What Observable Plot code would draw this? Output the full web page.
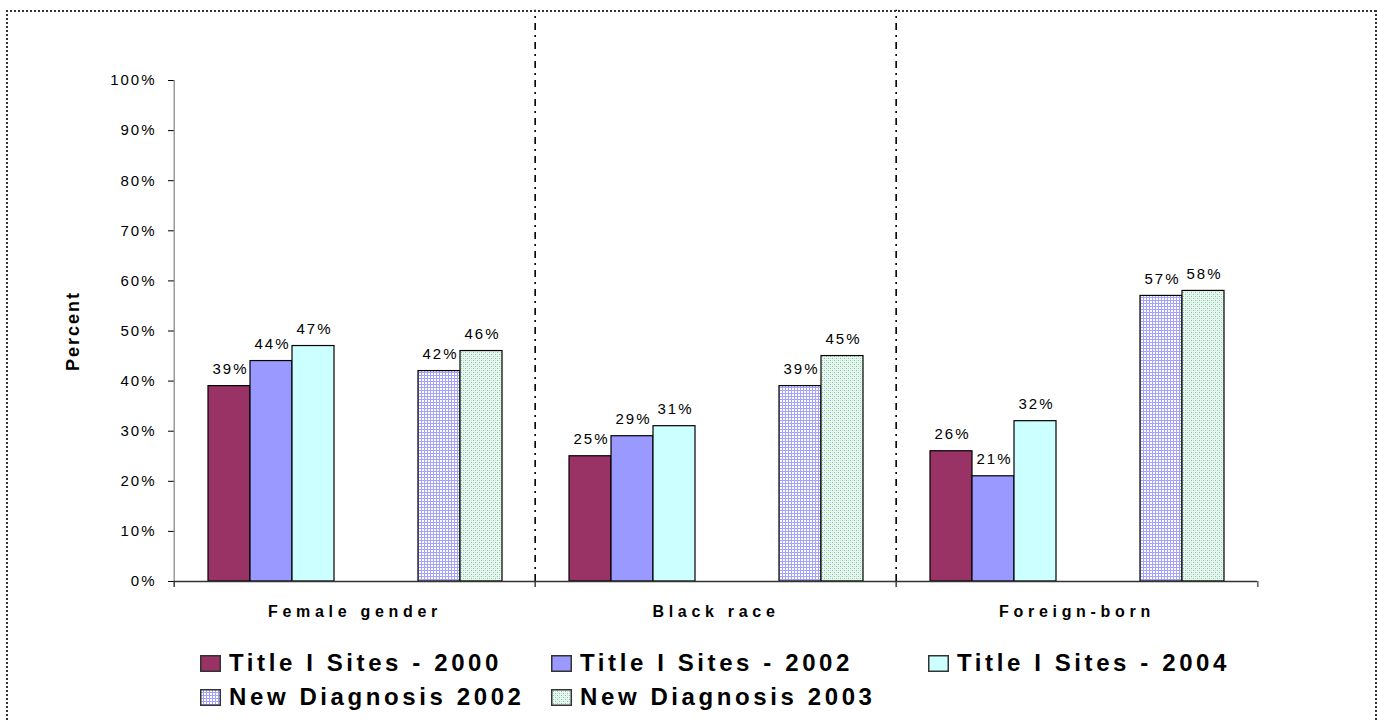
<!DOCTYPE html>
<html>
<head>
<meta charset="utf-8">
<script src="https://cdn.jsdelivr.net/npm/d3@7"></script>
<script src="https://cdn.jsdelivr.net/npm/@observablehq/plot@0.6"></script>
<style>
  body { margin: 0; background: #fff; font-family: Arial, "Liberation Sans", sans-serif; }
  #wrap { position: relative; width: 1380px; height: 721px; overflow: hidden; }
  #chart { position: absolute; left: 0; top: 0; }
  #border {
    position: absolute; left: 6px; top: 10px; width: 1371px; height: 760px;
    pointer-events: none;
    background:
      repeating-linear-gradient(90deg, #333 0 2px, transparent 2px 4px) top left / 100% 2px no-repeat,
      repeating-linear-gradient(180deg, #333 0 2px, transparent 2px 4px) top left / 2px 100% no-repeat,
      repeating-linear-gradient(180deg, #333 0 2px, transparent 2px 4px) top right / 2px 100% no-repeat;
  }
  #chart svg text { fill: #000; }
  #chart [aria-label^="y-axis tick label"] text,
  #chart [aria-label="y-axis"] text { letter-spacing: 2px; font-size: 15px; }
  #chart [aria-label^="fx-axis"] text { font-weight: bold; font-size: 16px; letter-spacing: 4.7px; }
  #chart [aria-label="y-axis label"] text,
  #chart [aria-label="y-axis label"] { font-weight: bold; font-size: 18px; letter-spacing: 2px; }
  #chart [aria-label="text"] text { letter-spacing: 2px; font-size: 15px; }
  #legend {
    position: absolute; left: 200px; top: 646px;
    display: grid; grid-template-columns: 351px 377px auto;
  }
  .item { display: flex; align-items: center; height: 34px; }
  .item svg { margin-right: 8px; flex: none; }
  .item span { font-weight: bold; font-size: 24px; letter-spacing: 3.6px; white-space: nowrap; color: #000; }
</style>
</head>
<body>
<svg width="0" height="0" style="position:absolute">
  <defs>
    <pattern id="grid-blue" width="3" height="3" patternUnits="userSpaceOnUse">
      <rect width="3" height="3" fill="#ffffff"/>
      <rect width="3" height="1" fill="#a3a3ff"/>
      <rect width="1" height="3" fill="#a3a3ff"/>
    </pattern>
    <pattern id="dots-green" width="4" height="4" patternUnits="userSpaceOnUse">
      <rect width="4" height="4" fill="#eaf7f0"/>
      <rect x="0" y="0" width="1" height="1" fill="#7fcca7"/>
      <rect x="2" y="2" width="1" height="1" fill="#7fcca7"/>
      <rect x="2" y="0" width="1" height="1" fill="#bfe6d3"/>
      <rect x="0" y="2" width="1" height="1" fill="#bfe6d3"/>
    </pattern>
  </defs>
</svg>
<div id="wrap">
  <div id="chart"></div>
  <div id="legend"></div>
  <div id="border"></div>
</div>
<script>
// Share of patients in each group, by data source
const groups = ["Female gender", "Black race", "Foreign-born"];
const series = [
  "Title I Sites - 2000",
  "Title I Sites - 2002",
  "Title I Sites - 2004",
  "New Diagnosis 2002",
  "New Diagnosis 2003"
];
const femaleGender = [39, 44, 47, 42, 46];
const blackRace = [25, 29, 31, 39, 45];
const foreignBorn = [26, 21, 32, 57, 58];
const yTicks = [0, 10, 20, 30, 40, 50, 60, 70, 80, 90, 100];

// Bar slots within each group: the Title I sites, two empty slots, then new diagnoses
const slots = [series[0], series[1], series[2], "gap-1", "gap-2", series[3], series[4]];
const fills = ["#993366", "#9999FF", "#CCFFFF", "url(#grid-blue)", "url(#dots-green)"];

const values = [femaleGender, blackRace, foreignBorn];
const data = groups.flatMap((group, gi) =>
  values[gi].map((value, si) => ({group, series: series[si], value}))
);

const W = 1380, H = 640;
const mL = 173, mR = 122, mT = 80, mB = 59;
const facetW = (W - mL - mR) / groups.length;
const tickDepth = -1.2;   // tick marks below the baseline, in percent units
const dividerTop = 114;   // separators reach the top of the frame

const chart = Plot.plot({
  width: W,
  height: H,
  marginLeft: mL,
  marginRight: mR,
  marginTop: mT,
  marginBottom: mB,
  style: {fontFamily: "Arial, 'Liberation Sans', sans-serif", fontSize: "15px", color: "#000", background: "transparent", overflow: "visible"},
  fx: {domain: groups, padding: 0, label: null, tickSize: 0, tickPadding: 24, axis: "bottom"},
  x: {domain: slots, paddingInner: 0, paddingOuter: 0.75, axis: null},
  y: {domain: [0, 100], ticks: yTicks, tickFormat: d => d + "%", tickSize: 6, tickPadding: 12,
      label: "Percent", labelArrow: false, labelAnchor: "center", labelOffset: 108},
  color: {domain: series, range: fills},
  marks: [
    Plot.barY(data, {fx: "group", x: "series", y: "value", fill: "series", stroke: "#000", strokeWidth: 1.2}),
    Plot.text(data, {fx: "group", x: "series", y: "value", text: d => d.value + "%",
      lineAnchor: "bottom", dy: -12, dx: 1}),
    // group separators
    Plot.ruleX(groups.slice(1), {fx: d => d, x: null, y1: 0, y2: dividerTop, dx: -facetW / 2,
      stroke: "#000", strokeWidth: 1.6, strokeDasharray: "7,5,2,5"}),
    // vertical axis line
    Plot.ruleX(groups.slice(0, 1), {fx: d => d, x: null, y1: 0, y2: 100, dx: -facetW / 2, stroke: "#808080", strokeWidth: 1.2}),
    // baseline and its tick marks
    Plot.ruleY([0], {stroke: "#333", strokeWidth: 1.4}),
    Plot.ruleX(groups, {fx: d => d, x: null, y1: tickDepth, y2: 0, dx: -facetW / 2, stroke: "#333", strokeWidth: 1.4}),
    Plot.ruleX(groups.slice(-1), {fx: d => d, x: null, y1: tickDepth, y2: 0, dx: facetW / 2, stroke: "#555", strokeWidth: 1.4})
  ]
});
// keep the axis title as plain text
d3.select(chart).selectAll('[aria-label="y-axis label"] text')
  .text(function() { return this.textContent.replace(/[↑↓→←]/g, "").trim(); });
document.getElementById("chart").appendChild(chart);

// Legend below the chart
const legend = d3.select("#legend");
series.forEach((name, i) => {
  const item = legend.append("div").attr("class", "item");
  const sw = item.append("svg").attr("width", 21).attr("height", 17);
  sw.append("rect").attr("x", 0.75).attr("y", 0.75).attr("width", 19.5).attr("height", 15.5)
    .attr("fill", fills[i]).attr("stroke", "#333").attr("stroke-width", 1.5);
  item.append("span").text(name);
});
</script>
</body>
</html>
